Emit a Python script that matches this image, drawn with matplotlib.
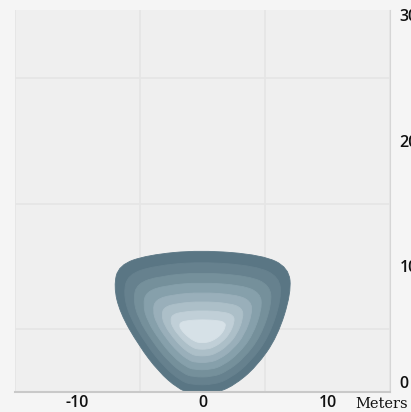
import numpy as np
import matplotlib
matplotlib.use("Agg")
import matplotlib.pyplot as plt
from matplotlib.path import Path
from matplotlib.patches import PathPatch

# outer edge of the pattern (meters), clockwise from top
outline_x = [-0.2, -4.4, -6.7, -7.1, -6.6, -5.1, -3.5, -2.0, -1.0, 1.0, 2.5, 4.3, 6.0, 7.1, 6.9, 4.8]
outline_y = [11.3, 10.9, 10.1, 8.4, 6.3, 3.7, 1.6, 0.3, -0.1, -0.1, 0.5, 2.0, 4.4, 7.9, 9.9, 10.9]

# hot spot centre and how far each band shrinks towards it (x, y)
center = (0.0, 4.7)
band_sx = [1.0, 0.89, 0.78, 0.67, 0.56, 0.46, 0.36, 0.26]
band_sy = [1.0, 0.86, 0.73, 0.61, 0.49, 0.38, 0.27, 0.16]
band_colors = ["#5a7684", "#66818e", "#75909b", "#86a0ab", "#99afba",
               "#acbfc8", "#c0cfd7", "#d6e1e7"]

xticks = [-10, 0, 10]
yticks = [0, 10, 20, 30]


def smooth_patch(xs, ys, color):
    # closed quadratic spline through midpoints of the control polygon
    pts = np.column_stack([xs, ys])
    n = len(pts)
    mids = (pts + np.roll(pts, -1, axis=0)) / 2
    verts = [mids[-1]]
    codes = [Path.MOVETO]
    for i in range(n):
        verts += [pts[i], mids[i]]
        codes += [Path.CURVE3, Path.CURVE3]
    return PathPatch(Path(verts, codes), facecolor=color, edgecolor=color, lw=0.6)


fig = plt.figure(figsize=(4.11, 4.12), dpi=100)
fig.patch.set_facecolor("#f5f5f5")
ax = fig.add_axes([15 / 411, 20 / 412, 375 / 411, 382 / 412])
ax.set_facecolor("#efefef")
ax.set_xlim(-15, 15)
ax.set_ylim(0, 30.4)

ax.set_xticks(np.arange(-15, 16, 5), minor=True)
ax.set_yticks(np.arange(5, 31, 5), minor=True)
ax.grid(which="minor", color="#e5e5e5", lw=1.2)
ax.set_axisbelow(True)

ox = np.array(outline_x)
oy = np.array(outline_y)
for sx, sy, c in zip(band_sx, band_sy, band_colors):
    xs = center[0] + sx * (ox - center[0])
    ys = center[1] + sy * (oy - center[1])
    ax.add_patch(smooth_patch(xs, ys, c))

for s in ["left", "top"]:
    ax.spines[s].set_visible(False)
ax.spines["bottom"].set_color("#c9c9c9")
ax.spines["bottom"].set_linewidth(1.5)
ax.spines["right"].set_color("#d6d6d6")

ax.set_xticks(xticks)
ax.set_xticklabels([str(v) for v in xticks], fontsize=11.5, family="Open Sans",
                   fontweight="semibold", color="#111111")
ax.yaxis.tick_right()
ax.set_yticks(yticks)
ax.set_yticklabels([str(v) for v in yticks], fontsize=11.5, family="Open Sans",
                   fontweight="semibold", color="#111111")
ax.tick_params(axis="x", length=0, pad=2.5)
ax.tick_params(axis="y", length=0, pad=7)
ax.tick_params(which="minor", length=0)
ax.get_yticklabels()[0].set_va("bottom")

fig.text(355 / 411, 1 - 408 / 412, "Meters", fontsize=10.5, family="DejaVu Serif",
         color="#111111", ha="left", va="baseline")

fig.savefig("out.png", dpi=100, facecolor=fig.get_facecolor())
